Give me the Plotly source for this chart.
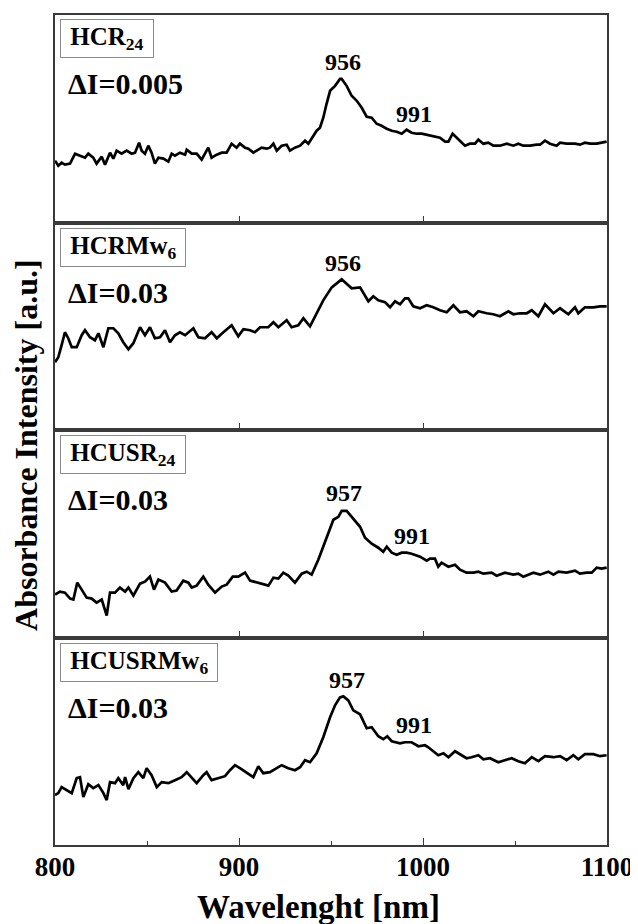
import plotly.graph_objects as go

# ---------------- data (wavelength in nm, absorbance intensity in a.u.) ----------------
wl_hcr24 = [800.0, 801.8, 803.6, 805.4, 808.2, 810.9, 813.6, 816.3, 818.1, 820.8, 822.6, 825.4, 827.2, 829.9, 831.7, 833.5, 836.2, 838.9, 841.7, 843.5, 845.7, 847.1, 848.9, 850.7, 852.5, 854.3, 856.2, 858.9, 861.6, 863.4, 865.2, 867.9, 870.7, 871.6, 874.3, 877.0, 879.7, 881.5, 883.3, 885.1, 887.9, 890.6, 893.3, 896.0, 898.7, 900.5, 903.3, 905.1, 907.8, 909.6, 912.3, 915.0, 916.8, 918.7, 920.5, 923.2, 925.9, 927.7, 930.4, 933.2, 935.9, 937.7, 939.5, 942.2, 944.0, 945.8, 947.6, 949.5, 952.2, 954.9, 955.8, 958.5, 961.2, 964.0, 966.7, 969.4, 972.1, 974.8, 977.5, 980.3, 983.0, 985.7, 988.4, 991.1, 993.8, 996.6, 999.3, 1002.0, 1005.6, 1009.2, 1012.0, 1013.8, 1016.1, 1018.3, 1020.1, 1022.8, 1025.5, 1028.3, 1030.1, 1032.8, 1035.5, 1038.2, 1041.8, 1045.5, 1049.1, 1051.8, 1054.5, 1058.2, 1061.8, 1063.6, 1066.3, 1069.0, 1072.6, 1074.5, 1078.1, 1082.6, 1085.3, 1088.0, 1090.8, 1094.4, 1097.1, 1099.8]
ab_hcr24 = [62, 57, 60, 58, 59, 69, 67, 65, 69, 65, 59, 66, 58, 70, 64, 72, 69, 72, 69, 70, 80, 72, 69, 77, 70, 59, 65, 64, 61, 69, 67, 70, 68, 73, 69, 69, 63, 69, 75, 65, 68, 70, 70, 79, 75, 79, 75, 74, 70, 72, 75, 74, 75, 79, 72, 77, 78, 72, 75, 77, 82, 79, 84, 92, 95, 105, 119, 132, 137, 144, 144, 137, 127, 122, 115, 106, 105, 99, 97, 94, 92, 91, 89, 93, 90, 89, 89, 88, 86, 85, 81, 81, 89, 85, 81, 77, 79, 79, 83, 79, 80, 77, 77, 79, 77, 79, 77, 77, 78, 78, 82, 79, 77, 80, 79, 79, 78, 80, 79, 79, 80, 81]

wl_hcrmw6 = [800.0, 801.8, 803.6, 805.4, 807.2, 809.1, 811.8, 814.5, 816.3, 819.0, 821.7, 823.6, 826.3, 829.0, 831.7, 834.4, 837.1, 839.9, 842.6, 846.2, 848.9, 851.6, 854.3, 857.1, 859.8, 862.5, 865.2, 867.9, 870.7, 875.2, 877.9, 881.5, 885.1, 887.9, 891.5, 896.0, 899.6, 902.4, 906.0, 908.7, 911.4, 915.9, 918.7, 921.4, 925.9, 928.6, 932.2, 935.0, 938.6, 942.2, 945.8, 950.4, 954.9, 955.8, 961.2, 965.8, 970.3, 973.0, 975.7, 979.4, 982.1, 984.8, 987.5, 990.2, 992.0, 994.7, 998.4, 1002.0, 1005.6, 1009.2, 1012.9, 1016.5, 1020.1, 1023.7, 1027.4, 1030.1, 1034.6, 1038.2, 1041.8, 1046.4, 1049.1, 1052.7, 1056.4, 1059.1, 1062.7, 1066.3, 1070.9, 1074.5, 1079.0, 1082.6, 1084.4, 1088.0, 1092.6, 1096.2, 1099.8]
ab_hcrmw6 = [68, 73, 85, 98, 92, 83, 83, 95, 100, 93, 90, 97, 83, 102, 102, 97, 88, 81, 87, 103, 95, 103, 92, 93, 100, 88, 95, 98, 95, 102, 93, 92, 98, 92, 98, 105, 94, 101, 100, 98, 103, 103, 108, 103, 110, 103, 105, 112, 104, 117, 130, 143, 150, 151, 142, 143, 129, 134, 130, 128, 123, 129, 126, 132, 132, 124, 122, 125, 123, 120, 118, 125, 118, 119, 114, 119, 117, 116, 114, 119, 116, 117, 117, 120, 114, 126, 117, 122, 116, 123, 117, 123, 123, 124, 124]

wl_hcusr24 = [800.0, 802.7, 805.4, 808.2, 810.0, 812.1, 814.5, 817.2, 819.9, 822.6, 825.4, 828.1, 829.9, 832.6, 835.3, 838.1, 839.9, 842.6, 846.2, 848.9, 851.6, 853.8, 856.2, 859.8, 863.4, 866.1, 869.7, 872.5, 874.3, 877.0, 880.6, 883.3, 887.0, 890.6, 893.3, 896.6, 899.6, 903.3, 906.0, 909.6, 912.3, 916.0, 918.7, 921.4, 924.1, 926.8, 930.4, 934.1, 936.8, 939.5, 943.1, 945.8, 948.6, 951.3, 954.0, 955.8, 958.5, 961.2, 965.8, 968.5, 972.1, 975.7, 978.4, 980.3, 983.0, 985.7, 988.4, 991.1, 993.8, 998.4, 1002.0, 1003.8, 1006.5, 1008.3, 1010.1, 1013.8, 1017.4, 1020.1, 1023.7, 1027.4, 1030.1, 1032.8, 1037.3, 1040.0, 1044.6, 1049.1, 1051.8, 1054.5, 1060.0, 1063.6, 1068.1, 1070.9, 1073.6, 1078.1, 1082.6, 1085.3, 1088.9, 1091.7, 1094.4, 1097.1, 1099.8]
ab_hcusr24 = [43, 46, 45, 39, 38, 55, 48, 40, 39, 35, 38, 22, 45, 45, 50, 46, 50, 42, 54, 56, 61, 48, 58, 55, 46, 47, 57, 55, 50, 52, 61, 53, 45, 51, 53, 61, 61, 65, 57, 55, 54, 52, 60, 59, 65, 62, 55, 64, 66, 63, 78, 91, 105, 118, 121, 127, 127, 121, 111, 100, 94, 90, 86, 91, 85, 83, 85, 85, 84, 81, 77, 79, 79, 71, 75, 71, 73, 68, 65, 65, 66, 64, 65, 62, 65, 63, 64, 61, 65, 63, 66, 63, 66, 65, 67, 64, 65, 65, 70, 69, 70]

wl_hcusrmw6 = [800.0, 801.8, 803.6, 806.3, 809.1, 811.8, 813.6, 815.4, 818.1, 820.8, 823.6, 826.3, 828.1, 829.9, 832.6, 834.4, 837.1, 838.1, 839.9, 842.6, 845.3, 848.0, 849.8, 852.5, 855.3, 858.0, 861.6, 865.2, 868.8, 871.6, 874.3, 877.0, 880.6, 882.4, 885.1, 888.8, 892.4, 895.1, 897.8, 900.5, 904.2, 907.8, 910.5, 913.2, 916.8, 920.5, 923.2, 926.8, 930.4, 933.2, 935.9, 938.6, 942.2, 945.8, 949.5, 952.2, 954.9, 956.7, 959.4, 962.1, 965.8, 969.4, 972.1, 975.7, 978.4, 980.6, 983.0, 987.5, 990.2, 993.8, 997.5, 1001.1, 1002.9, 1008.3, 1011.1, 1013.8, 1017.4, 1020.1, 1023.7, 1026.4, 1030.1, 1032.8, 1036.4, 1040.9, 1044.6, 1048.2, 1051.8, 1055.4, 1059.1, 1062.7, 1066.3, 1070.9, 1074.5, 1078.1, 1081.7, 1084.4, 1088.0, 1092.6, 1096.2, 1099.8]
ab_hcusrmw6 = [50, 52, 58, 55, 52, 67, 68, 48, 61, 57, 60, 52, 45, 63, 62, 67, 60, 68, 56, 67, 73, 67, 77, 70, 58, 63, 62, 65, 68, 73, 68, 62, 70, 73, 65, 67, 69, 75, 80, 77, 72, 68, 79, 72, 73, 77, 80, 77, 75, 78, 85, 83, 92, 108, 128, 140, 148, 149, 145, 135, 131, 117, 118, 109, 106, 109, 104, 102, 103, 103, 99, 100, 98, 90, 92, 88, 94, 91, 87, 88, 90, 86, 87, 83, 85, 87, 84, 82, 88, 84, 89, 88, 89, 85, 90, 86, 91, 91, 89, 90]

sample_labels = ["HCR<sub>24</sub>", "HCRMw<sub>6</sub>", "HCUSR<sub>24</sub>", "HCUSRMw<sub>6</sub>"]
delta_labels = ["ΔI=0.005", "ΔI=0.03", "ΔI=0.03", "ΔI=0.03"]
# peak annotations: (label, position nm, intensity)
peaks = [
    [("956", 956.5, 161), ("991", 995.1, 109)],
    [("956", 956.5, 167)],
    [("957", 957.1, 145), ("991", 994.0, 102)],
    [("957", 958.7, 165), ("991", 995.1, 120)],
]
x_ticks = [800, 900, 1000, 1100]
x_minor = [850, 950, 1050]

series = [(wl_hcr24, ab_hcr24), (wl_hcrmw6, ab_hcrmw6),
          (wl_hcusr24, ab_hcusr24), (wl_hcusrmw6, ab_hcusrmw6)]

FONT = "Liberation Serif"
AX = "#3a3a3a"
NB = "\u00a0"

# ---------------- figure ----------------
OFF = 8                     # page body margin of the HTML page
W, H = 638 - OFF, 924 - OFF
ml, mt = 55 - OFF, 13 - OFF
plot_right, plot_bottom = 607 - OFF, 845 - OFF
mr, mb = W - plot_right, H - plot_bottom
plot_h = H - mt - mb
plot_w = W - ml - mr

def px_to_paper_x(px):      # px in page coordinates
    return (px - OFF - ml) / plot_w

def px_to_paper_y(py):
    return (H - mb - (py - OFF)) / plot_h

fig = go.Figure()
layout = dict(
    width=W, height=H,
    margin=dict(l=ml, r=mr, t=mt, b=mb, pad=0),
    paper_bgcolor="white", plot_bgcolor="white",
    showlegend=False,
    font=dict(family=FONT, color="black"),
)

annotations = []
n = len(series)
panel_tops = [13, 222, 430, 638]
for i, (wl, ab) in enumerate(series):
    k = i + 1
    xname = "x" if k == 1 else f"x{k}"
    yname = "y" if k == 1 else f"y{k}"
    fig.add_trace(go.Scatter(x=wl, y=ab, mode="lines",
                             line=dict(color="black", width=2.7),
                             xaxis=xname, yaxis=yname, hoverinfo="skip"))
    top = 1 - i / n
    bot = 1 - (i + 1) / n
    bottom_panel = (i == n - 1)
    xa = dict(
        domain=[0, 1], anchor=yname, range=[800, 1100],
        showline=True, linecolor=AX, linewidth=1.5, mirror=True,
        ticks="inside", ticklen=7, tickwidth=1.2, tickcolor=AX,
        tickvals=x_ticks, showgrid=False, zeroline=False,
        showticklabels=bottom_panel,
        tickfont=dict(family=FONT, size=27, color="black", weight="bold"),
    )
    if bottom_panel:
        xa["minor"] = dict(tickvals=x_minor, ticks="inside", ticklen=4,
                           tickwidth=1.2, tickcolor=AX, showgrid=False)
        xa["ticklabelstandoff"] = -3
    ya = dict(
        domain=[bot, top], anchor=xname, range=[0, 208],
        showline=True, linecolor=AX, linewidth=1.5, mirror=True,
        ticks="", showticklabels=False, showgrid=False, zeroline=False,
    )
    layout["xaxis" if k == 1 else f"xaxis{k}"] = xa
    layout["yaxis" if k == 1 else f"yaxis{k}"] = ya

    panel_top_px = panel_tops[i]
    # sample label box
    annotations.append(dict(
        text=f"{NB}<b>{sample_labels[i]}</b>{NB}", xref="paper", yref="paper",
        x=px_to_paper_x(60), y=px_to_paper_y(panel_top_px + 24),
        xanchor="left", yanchor="middle", showarrow=False,
        font=dict(family=FONT, size=25, color="black"),
        bordercolor="#8a8a8a", borderwidth=1, borderpad=3, bgcolor="white",
    ))
    # delta I label
    annotations.append(dict(
        text=f"<b>{delta_labels[i]}</b>", xref="paper", yref="paper",
        x=px_to_paper_x(66), y=px_to_paper_y(panel_top_px + 69),
        xanchor="left", yanchor="middle", showarrow=False,
        font=dict(family=FONT, size=30, color="black"),
    ))
    for lab, xp, yp in peaks[i]:
        annotations.append(dict(
            text=f"<b>{lab}</b>", xref=xname, yref=yname, x=xp, y=yp,
            xanchor="center", yanchor="middle", showarrow=False,
            font=dict(family=FONT, size=24, color="black"),
        ))

# axis titles
annotations.append(dict(
    text="<b>Absorbance Intensity [a.u.]</b>", xref="paper", yref="paper",
    x=px_to_paper_x(26), y=px_to_paper_y(444), textangle=-90,
    xanchor="center", yanchor="middle", showarrow=False,
    font=dict(family=FONT, size=32, color="black"),
))
annotations.append(dict(
    text="<b>Wavelenght [nm]</b>", xref="paper", yref="paper",
    x=px_to_paper_x(318), y=px_to_paper_y(907),
    xanchor="center", yanchor="middle", showarrow=False,
    font=dict(family=FONT, size=33, color="black"),
))
layout["annotations"] = annotations
fig.update_layout(**layout)
fig.write_html("out.html")
